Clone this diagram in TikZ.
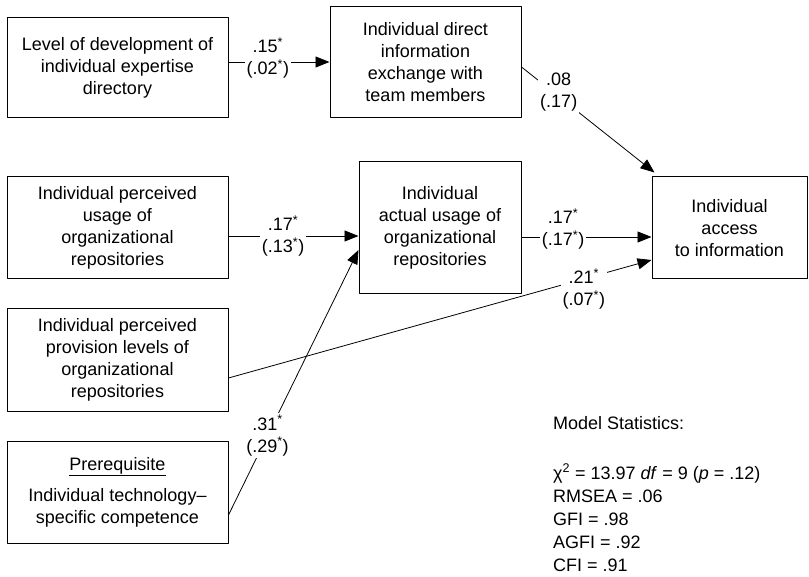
\documentclass[tikz,border=0pt]{standalone}
\usepackage{fontspec}
\setmainfont{Liberation Sans}
\usetikzlibrary{arrows.meta}
\newcommand{\sig}{\textsuperscript{*}}
\begin{document}
\begin{tikzpicture}[x=1pt,y=-1pt,line join=round,>={Triangle[length=14pt,width=11pt]},
    font=\fontsize{18}{22}\selectfont,
    box/.style={draw,line width=1pt,inner sep=0pt,align=center},
    coef/.style={fill=white,inner sep=2pt,align=center},
    path/.style={->,line width=0.8pt}]
    \useasboundingbox (0,0) rectangle (809,577);
    \node[box,minimum width=221pt,minimum height=100pt] (expert) at (117.5,68)
        {Level of development of\\individual expertise\\directory};
    \node[box,minimum width=191pt,minimum height=111pt] (direct) at (425.5,62.5)
        {Individual direct\\information\\exchange with\\team members};
    \node[box,minimum width=221pt,minimum height=102pt] (perusage) at (117.5,228)
        {Individual perceived\\usage of\\organizational\\repositories};
    \node[box,minimum width=162pt,minimum height=132pt] (actusage) at (440,228)
        {Individual\\actual usage of\\organizational\\repositories};
    \node[box,minimum width=155pt,minimum height=102pt] (access) at (729.5,228)
        {Individual\\access\\to information};
    \node[box,minimum width=221pt,minimum height=102pt] (provision) at (117.5,360)
        {Individual perceived\\provision levels of\\organizational\\repositories};
    \node[box,minimum width=221pt,minimum height=102pt] (prereq) at (117.5,492)
        {\underline{Prerequisite}\\[9pt]Individual technology--\\specific competence};
    \draw[path] ([yshift=6pt]expert.east) -- node[coef,pos=0.39,yshift=4pt]{.15\sig\\(.02\sig)} ([yshift=6pt]expert.east -| direct.west);
    \draw[path] ([yshift=-4.5pt]direct.east) -- node[coef,pos=0.28,yshift=4pt]{.08\\(.17)} ([xshift=3pt,yshift=4pt]access.north west);
    \draw[path] ([yshift=-8pt]perusage.east) -- node[coef,pos=0.42]{.17\sig\\(.13\sig)} ([yshift=-8pt]actusage.west);
    \draw[path] ([yshift=-9pt]actusage.east) -- node[coef,pos=0.32,yshift=8pt]{.17\sig\\(.17\sig)} ([yshift=-9pt]access.west);
    \draw[path] ([yshift=-18pt]provision.east) -- node[coef,pos=0.84,yshift=-10pt]{.21\sig\\(.07\sig)} ([yshift=-32pt]access.west);
    \draw[path] ([yshift=-23pt]prereq.east) -- node[coef,pos=0.30]{.31\sig\\(.29\sig)} ([yshift=-22pt]actusage.west);
    \node[anchor=north west,align=left,inner sep=0pt,font=\fontsize{18}{23}\selectfont] (stats) at (553,416)
        {Model Statistics:\\[27pt]χ\textsuperscript{2} = 13.97 \textit{df} = 9 (\textit{p} = .12)\\RMSEA = .06\\GFI = .98\\AGFI = .92\\CFI = .91};
\end{tikzpicture}
\end{document}
